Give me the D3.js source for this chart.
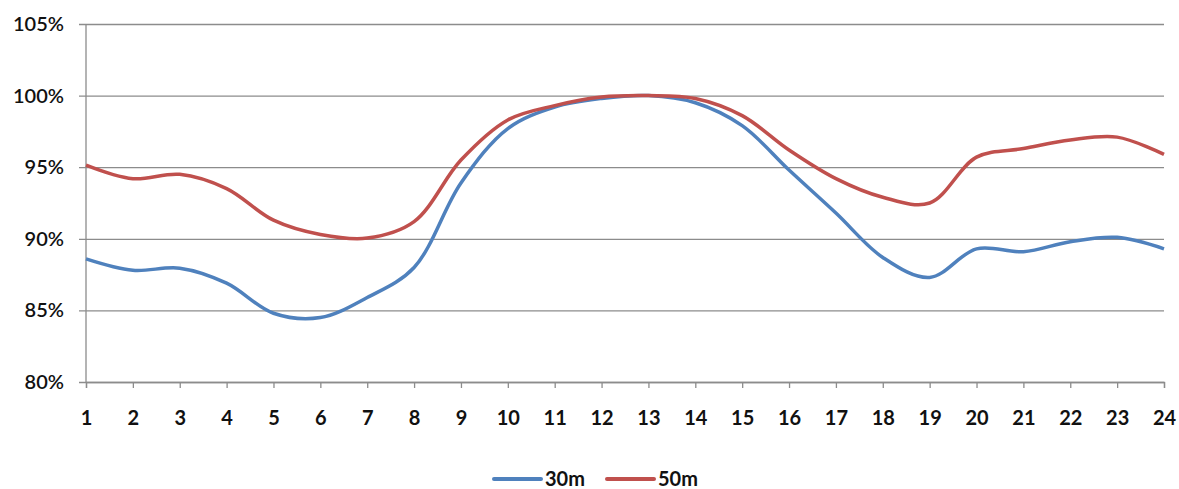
<!DOCTYPE html>
<html>
<head>
<meta charset="utf-8">
<script src="https://cdn.jsdelivr.net/npm/d3@7.9.0/dist/d3.min.js"></script>
<style>
  body { margin: 0; background: #fff; }
  svg { display: block; font-family: Lato, 'Open Sans', sans-serif; }
  .tick text { fill: #111; }
</style>
</head>
<body>
<div id="chart"></div>
<script>
// hours 1..24
const hours = d3.range(1, 25);
const series30 = [88.6, 87.8, 87.95, 86.9, 84.8, 84.5, 85.9, 88.0, 93.9, 97.7, 99.2, 99.8,
                  100.0, 99.5, 97.9, 94.8, 91.8, 88.7, 87.3, 89.3, 89.1, 89.8, 90.1, 89.3];
const series50 = [95.15, 94.2, 94.5, 93.5, 91.3, 90.3, 90.05, 91.2, 95.5, 98.3, 99.3, 99.9,
                  100.0, 99.8, 98.6, 96.2, 94.2, 92.9, 92.5, 95.7, 96.3, 96.9, 97.1, 95.9];
const seriesNames = ['30m', '50m'];
const seriesColors = ['#4F81BD', '#C0504D'];
const yTicks = [80, 85, 90, 95, 100, 105];

const width = 1179;
const height = 489;
const margin = { top: 24, right: 15, bottom: 107, left: 86 };
const fontFamily = 'Lato, "Open Sans", sans-serif';

const x = d3.scalePoint()
  .domain(hours)
  .range([margin.left, width - margin.right]);

const y = d3.scaleLinear()
  .domain([80, 105])
  .range([height - margin.bottom, margin.top]);

const svg = d3.select('#chart')
  .append('svg')
  .attr('width', width)
  .attr('height', height);

// gridlines + y axis labels
const yAxis = d3.axisLeft(y)
  .tickValues(yTicks)
  .tickSize(-(width - margin.right - margin.left))
  .tickPadding(22)
  .tickFormat(d => d + '%');

const gy = svg.append('g')
  .attr('transform', `translate(${margin.left},0)`)
  .call(yAxis)
  .attr('font-family', fontFamily);
gy.select('.domain').remove();
gy.selectAll('.tick line')
  .attr('x1', -7)
  .attr('stroke', '#8c8c8c')
  .attr('stroke-width', 1.3);
gy.selectAll('.tick text')
  .attr('font-size', 20)
  .attr('font-weight', 600);

// y axis line
svg.append('line')
  .attr('x1', margin.left).attr('x2', margin.left)
  .attr('y1', y(105)).attr('y2', y(80))
  .attr('stroke', '#8c8c8c')
  .attr('stroke-width', 1.3);

// x axis
const xAxis = d3.axisBottom(x).tickSize(6).tickPadding(23);
const gx = svg.append('g')
  .attr('transform', `translate(0,${y(80)})`)
  .call(xAxis)
  .attr('font-family', fontFamily);
gx.select('.domain').attr('stroke', '#8c8c8c').attr('stroke-width', 1.3);
gx.selectAll('.tick line').attr('stroke', '#8c8c8c').attr('stroke-width', 1.3);
gx.selectAll('.tick text')
  .attr('font-size', 20)
  .attr('font-weight', 700);

// lines
const line = d3.line()
  .x((d, i) => x(hours[i]))
  .y(d => y(d))
  .curve(d3.curveCatmullRom.alpha(0.5));

[series30, series50].forEach((s, i) => {
  svg.append('path')
    .datum(s)
    .attr('fill', 'none')
    .attr('stroke', seriesColors[i])
    .attr('stroke-width', 3.5)
    .attr('stroke-linejoin', 'round')
    .attr('d', line);
});

// legend
const legend = svg.append('g').attr('transform', 'translate(494,479)');
const legendX = [0, 113];
seriesNames.forEach((name, i) => {
  const g = legend.append('g').attr('transform', `translate(${legendX[i]},0)`);
  g.append('line')
    .attr('x1', 0).attr('x2', 47)
    .attr('y1', 0).attr('y2', 0)
    .attr('stroke', seriesColors[i])
    .attr('stroke-width', 4)
    .attr('stroke-linecap', 'round');
  g.append('text')
    .attr('x', 51)
    .attr('y', 0)
    .attr('dy', '0.35em')
    .attr('font-size', 20)
    .attr('font-weight', 700)
    .attr('fill', '#111')
    .text(name);
});
</script>
</body>
</html>
